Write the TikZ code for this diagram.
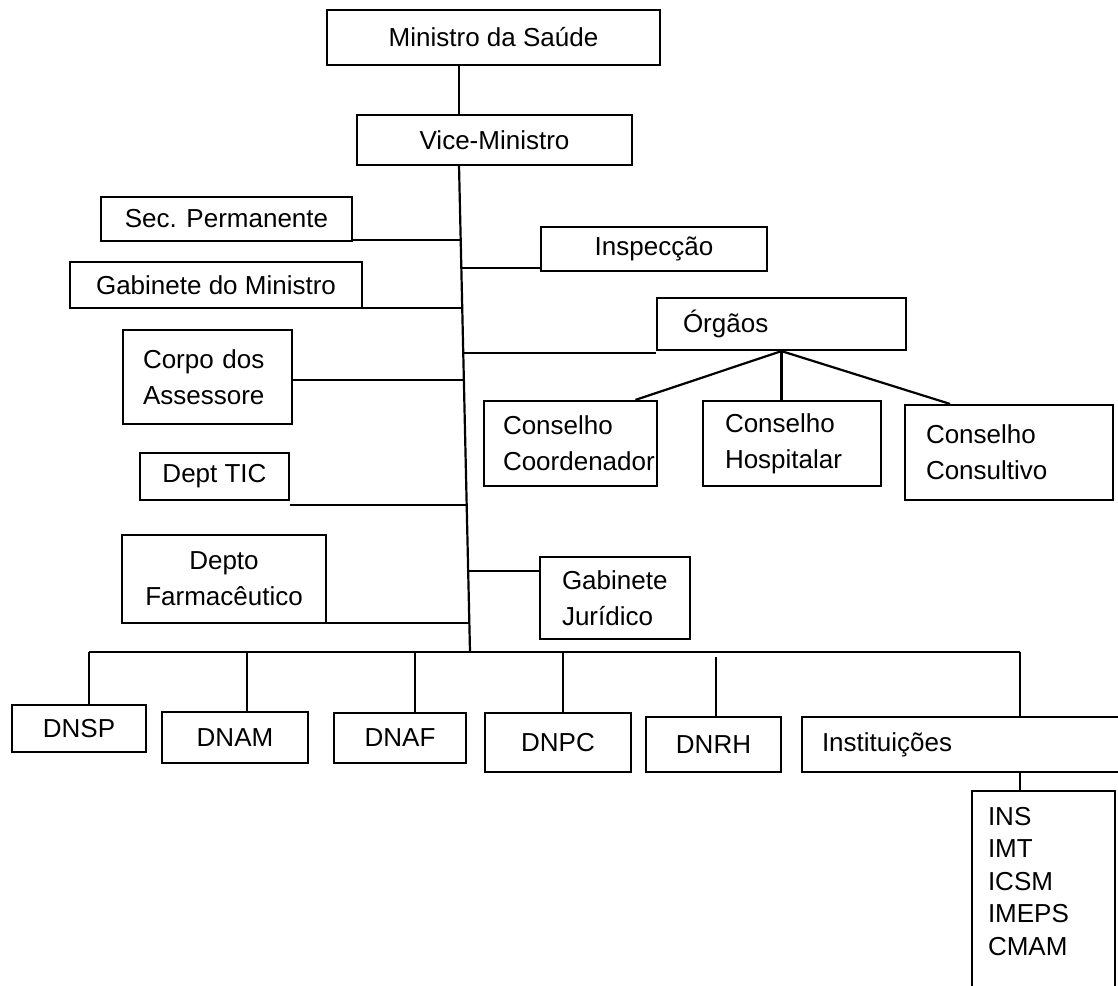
\documentclass[tikz,border=0pt]{standalone}
\usepackage{fontspec}
\newfontfamily\orgfont{Liberation Sans}
\usetikzlibrary{calc}

\tikzset{
  orgbox/.style={draw, line width=2.2pt, rectangle, inner sep=0pt,
    font=\orgfont\fontsize{26}{36}\selectfont},
  lbox/.style 2 args={orgbox, align=left, inner xsep=#2, text width=#1},
  link/.style={line width=2.2pt}
}

\begin{document}
\begin{tikzpicture}[x=1pt, y=-1pt]
	\useasboundingbox (0,0) rectangle (1118,985);
	\begin{scope}
	\clip (0,0) rectangle (1118,985);

	% top
	\node[orgbox, minimum width=333, minimum height=55] (ministro) at (493.5,37.5) {Ministro da Saúde};
	\node[orgbox, minimum width=275, minimum height=50] (vice) at (494.5,140) {Vice-Ministro};

	% left branches
	\node[orgbox, minimum width=251, minimum height=44] (secperm) at (226.5,219) {Sec. Permanente};
	\node[orgbox, minimum width=292, minimum height=46] (gabmin) at (216,285) {Gabinete do Ministro};
	\node[lbox={129pt}{20pt}, minimum width=169, minimum height=94] (corpo) at (207.5,377) {Corpo dos\\Assessore};
	\node[orgbox, minimum width=149, minimum height=47] (dtic) at (214.5,476.5) {Dept TIC};
	\node[orgbox, align=center, minimum width=204, minimum height=88] (dfarm) at (224,579) {Depto\\Farmacêutico};

	% right branches
	\node[orgbox, minimum width=226, minimum height=44] (inspeccao) at (654,249) {Inspecção};
	\node[lbox={197pt}{26pt}, minimum width=249, minimum height=52] (orgaos) at (781.5,324) {Órgãos};
	\node[lbox={135pt}{19pt}, minimum width=173, minimum height=85] (conscoord) at (570.5,443.5) {Conselho\\Coordenador};
	\node[lbox={134pt}{22pt}, minimum width=178, minimum height=85] (conshosp) at (792,443.5) {Conselho\\Hospitalar};
	\node[lbox={166pt}{21pt}, minimum width=208, minimum height=95] (conscons) at (1009,452.5) {Conselho\\Consultivo};
	\node[lbox={106pt}{22pt}, minimum width=150, minimum height=82] (gabjur) at (615,598) {Gabinete\\Jurídico};

	% bottom row
	\node[orgbox, minimum width=134, minimum height=47] (dnsp) at (79,728.5) {DNSP};
	\node[orgbox, minimum width=146, minimum height=51] (dnam) at (235,737.5) {DNAM};
	\node[orgbox, minimum width=132, minimum height=50] (dnaf) at (400,738) {DNAF};
	\node[orgbox, minimum width=146, minimum height=59] (dnpc) at (558,742.5) {DNPC};
	\node[orgbox, minimum width=135, minimum height=55] (dnrh) at (713.5,744.5) {DNRH};
	\node[lbox={283pt}{20pt}, minimum width=323, minimum height=55] (inst) at (963.5,744.5) {Instituições};
	\node[lbox={111pt}{16pt}, anchor=north, inner ysep=16pt, text depth=178pt,
	  font=\orgfont\fontsize{26}{32.5}\selectfont] (instlist) at (1043.5,790) {INS\\IMT\\ICSM\\IMEPS\\CMAM};

	% trunk
	\coordinate (ttop) at (459,165);
	\coordinate (tbot) at (470,652);
	\draw[link] (ministro.south -| ttop) -- (vice.north -| ttop);
	\draw[link] (ttop) -- (tbot);

	\coordinate (j1) at ($(ttop)!0.154!(tbot)$);
	\coordinate (j2) at ($(ttop)!0.2115!(tbot)$);
	\coordinate (j3) at ($(ttop)!0.294!(tbot)$);
	\coordinate (j4) at ($(ttop)!0.386!(tbot)$);
	\coordinate (j5) at ($(ttop)!0.441!(tbot)$);
	\coordinate (j6) at ($(ttop)!0.698!(tbot)$);
	\coordinate (j7) at ($(ttop)!0.834!(tbot)$);
	\coordinate (j8) at ($(ttop)!0.940!(tbot)$);

	\draw[link] (j1) -- (j1 -| secperm.east);
	\draw[link] (j2) -- (j2 -| inspeccao.west);
	\draw[link] (j3) -- (j3 -| gabmin.east);
	\draw[link] (j4) -- (j4 -| orgaos.west);
	\draw[link] (j5) -- (j5 -| corpo.east);
	\draw[link] (j6) -- (j6 -| dtic.east);
	\draw[link] (j7) -- (j7 -| gabjur.west);
	\draw[link] (j8) -- (j8 -| dfarm.east);

	% orgaos fan
	\draw[link] (orgaos.south) -- ([xshift=65pt]conscoord.north);
	\draw[link] (orgaos.south) -- (orgaos.south |- conshosp.north);
	\draw[link] (orgaos.south) -- ([xshift=-59pt]conscons.north);

	% bus
	\coordinate (busL) at (89,652);
	\coordinate (busR) at (1020,652);
	\draw[link] (busL) -- (busR);
	\foreach \n/\dx in {dnsp/10, dnam/12, dnaf/15, dnpc/5}
	  \draw[link] ([xshift=\dx]\n.north |- busL) -- ([xshift=\dx]\n.north);
	\draw[link] ([xshift=2.5pt,yshift=-5pt]dnrh.north |- busL) -- ([xshift=2.5pt]dnrh.north);
	\draw[link] (busR) -- (busR |- inst.north);
	\draw[link] (busR |- inst.south) -- (busR |- instlist.north);
	\end{scope}
\end{tikzpicture}
\end{document}
